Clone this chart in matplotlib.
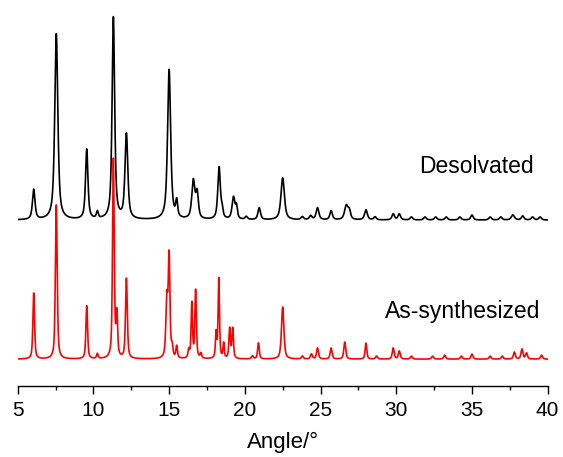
import numpy as np
import matplotlib
matplotlib.use("Agg")
import matplotlib.pyplot as plt

plt.rcParams['font.family'] = ['Liberation Sans', 'DejaVu Sans']

# peak lists: position (deg), height, FWHM (deg)
desolv_pos = [6.06, 7.55, 9.56, 10.26, 11.32, 12.18, 15.0, 15.5, 16.6, 16.85,
              18.3, 18.5, 19.25, 19.45, 20.1, 20.95, 22.5, 23.8, 24.35, 24.8,
              25.7, 26.7, 26.9, 28.0, 28.6, 29.8, 30.2, 31.0, 31.9, 32.6,
              33.3, 34.2, 35.0, 36.2, 36.9, 37.7, 38.35, 39.0, 39.5]
desolv_h = [30, 186, 70, 7, 202, 85, 150, 16, 38, 25,
            52, 8, 22, 12, 3, 12, 42, 3, 4, 12,
            9, 14, 8, 10, 3, 6, 6, 3, 3, 3,
            3, 3, 5, 3, 3, 5, 4, 3, 3]
desolv_w = [0.2, 0.24, 0.19, 0.15, 0.2, 0.22, 0.24, 0.15, 0.24, 0.2,
            0.2, 0.15, 0.22, 0.15, 0.2, 0.2, 0.27, 0.2, 0.2, 0.22,
            0.2, 0.27, 0.2, 0.22, 0.2, 0.2, 0.2, 0.2, 0.2, 0.2,
            0.2, 0.2, 0.2, 0.2, 0.2, 0.25, 0.2, 0.2, 0.2]

assyn_pos = [6.06, 7.55, 9.56, 10.26, 11.32, 11.55, 12.18, 14.85, 15.0, 15.2,
             15.5, 16.3, 16.5, 16.75, 17.1, 18.1, 18.28, 18.6, 19.0, 19.2,
             20.5, 20.9, 22.5, 23.8, 24.4, 24.8, 25.7, 26.6, 28.0, 28.7,
             29.8, 30.2, 31.0, 32.4, 33.2, 34.3, 35.0, 36.2, 37.0, 37.8,
             38.3, 38.6, 39.6]
assyn_h = [66, 154, 53, 5, 199, 42, 80, 58, 100, 10,
           12, 8, 55, 68, 5, 25, 80, 15, 30, 30,
           3, 16, 52, 3, 5, 11, 11, 17, 16, 3,
           11, 8, 3, 3, 4, 3, 5, 3, 3, 7,
           10, 6, 4]
assyn_w = [0.13, 0.14, 0.13, 0.12, 0.13, 0.12, 0.14, 0.15, 0.13, 0.12,
           0.12, 0.12, 0.11, 0.12, 0.12, 0.1, 0.11, 0.1, 0.12, 0.12,
           0.15, 0.13, 0.19, 0.15, 0.15, 0.15, 0.15, 0.15, 0.13, 0.15,
           0.15, 0.15, 0.15, 0.15, 0.15, 0.15, 0.15, 0.15, 0.15, 0.15,
           0.15, 0.15, 0.15]

desolv_base = 166
assyn_base = 27


def pattern(x, pos, h, w, base, eta=0.6):
    y = np.full_like(x, float(base))
    for p, a, f in zip(pos, h, w):
        d = (x - p) / (f / 2)
        lor = 1 / (1 + d ** 2)
        gau = np.exp(-np.log(2) * d ** 2)
        y += a * (eta * lor + (1 - eta) * gau)
    return y


x = np.arange(5, 40.001, 0.01)

fig = plt.figure(figsize=(5.63, 4.57), dpi=100)
ax = fig.add_axes([0.0314, 0.155, 0.9414, 0.845])

ax.plot(x, pattern(x, desolv_pos, desolv_h, desolv_w, desolv_base, 0.7), color='black', lw=1.2)
ax.plot(x, pattern(x, assyn_pos, assyn_h, assyn_w, assyn_base), color='#ff0000', lw=1.2)

ax.text(35.3, 213, 'Desolvated', fontsize=16.5, ha='center', va='baseline')
ax.text(34.38, 68, 'As-synthesized', fontsize=16.5, ha='center', va='baseline')

ax.set_xlim(5, 40)
ax.set_ylim(0, 386)
ax.set_xticks(np.arange(5, 41, 5))
ax.set_xticks(np.arange(7.5, 40, 5), minor=True)
ax.set_yticks([])
for s in ['left', 'right', 'top']:
    ax.spines[s].set_visible(False)
ax.spines['bottom'].set_linewidth(1.0)
ax.tick_params(axis='x', which='major', length=6, width=1.0, labelsize=15, pad=5)
ax.tick_params(axis='x', which='minor', length=3, width=1.0)
ax.set_xlabel('Angle/\u00b0', fontsize=16, labelpad=8)

fig.savefig('out.png', dpi=100)
